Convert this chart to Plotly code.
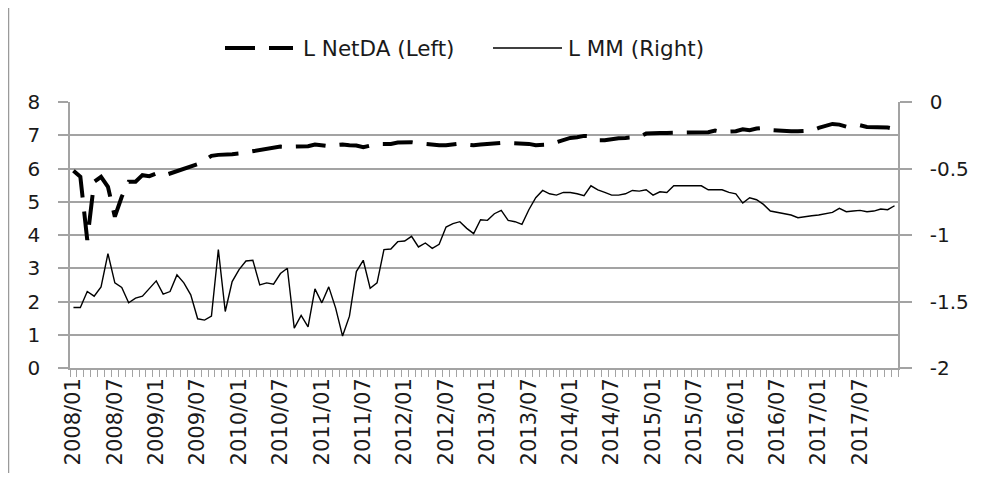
import plotly.graph_objects as go

# Categories: monthly, 2008/01 .. 2017/12
years = list(range(2008, 2018))
months = [f"{y}/{m:02d}" for y in years for m in range(1, 13)]
tick_labels = months[::6]

# L NetDA (left axis)
netda = [5.93, 5.75, 3.85, 5.60, 5.75, 5.45, 4.55, 5.15, 5.60, 5.60,
         5.80, 5.77, 5.85, 5.78, 5.85, 5.92, 6.00, 6.08, 6.13, 6.25,
         6.38, 6.41, 6.41, 6.43, 6.45, 6.49, 6.53, 6.56, 6.59, 6.63,
         6.66, 6.65, 6.65, 6.66, 6.67, 6.72, 6.70, 6.67, 6.70, 6.72,
         6.70, 6.69, 6.64, 6.70, 6.74, 6.74, 6.74, 6.78, 6.79, 6.79,
         6.76, 6.73, 6.70, 6.70, 6.70, 6.72, 6.75, 6.72, 6.70, 6.72,
         6.74, 6.77, 6.77, 6.77, 6.77, 6.77, 6.74, 6.70, 6.70, 6.72,
         6.79, 6.86, 6.92, 6.94, 6.98, 6.97, 6.85, 6.85, 6.89, 6.91,
         6.92, 6.92, 6.95, 7.05, 7.07, 7.07, 7.07, 7.07, 7.07, 7.07,
         7.08, 7.06, 7.09, 7.14, 7.10, 7.11, 7.12, 7.18, 7.15, 7.20,
         7.22, 7.16, 7.14, 7.12, 7.12, 7.12, 7.13, 7.14, 7.22, 7.28,
         7.34, 7.32, 7.26, 7.27, 7.30, 7.25, 7.25, 7.25, 7.23, 7.19]

# L MM (right axis)
mm = [-1.545, -1.545, -1.425, -1.46, -1.39, -1.14, -1.36, -1.395, -1.51, -1.475,
      -1.46, -1.40, -1.345, -1.445, -1.425, -1.30, -1.36, -1.45, -1.63, -1.64,
      -1.61, -1.11, -1.575, -1.35, -1.26, -1.195, -1.19, -1.375, -1.36, -1.37,
      -1.29, -1.25, -1.70, -1.605, -1.69, -1.405, -1.51, -1.39, -1.55, -1.76,
      -1.61, -1.275, -1.19, -1.40, -1.36, -1.11, -1.105, -1.05, -1.045, -1.01,
      -1.09, -1.06, -1.10, -1.07, -0.94, -0.915, -0.90, -0.95, -0.99, -0.885,
      -0.89, -0.84, -0.815, -0.89, -0.90, -0.92, -0.81, -0.72, -0.665, -0.69,
      -0.70, -0.68, -0.68, -0.69, -0.705, -0.63, -0.66, -0.68, -0.70, -0.70,
      -0.69, -0.665, -0.67, -0.66, -0.70, -0.675, -0.68, -0.63, -0.63, -0.63,
      -0.63, -0.63, -0.66, -0.66, -0.66, -0.68, -0.69, -0.76, -0.72, -0.735,
      -0.77, -0.82, -0.83, -0.84, -0.85, -0.87, -0.86, -0.855, -0.85, -0.84,
      -0.83, -0.80, -0.825, -0.82, -0.815, -0.825, -0.82, -0.805, -0.81, -0.78]

series_names = ["L NetDA (Left)", "L MM (Right)"]
left_ticks = [0, 1, 2, 3, 4, 5, 6, 7, 8]
right_ticks = [-2, -1.5, -1, -0.5, 0]
right_ticklabels = ["-2", "-1.5", "-1", "-0.5", "0"]

FONT = "DejaVu Sans"
GRID = "#a3a3a3"
TXT = "#1a1a1a"

# figure geometry (page has an 8px body margin)
W, H = 966, 465
ML, MR, MT, MB = 62, 76, 94, 105
PW, PH = W - ML - MR, H - MT - MB


def px(x):
    return (x - ML) / PW


def py(y):
    return (H - MB - y) / PH


dash_style = "30px,14px"

fig = go.Figure()
fig.add_trace(go.Scatter(
    x=months, y=netda, name=series_names[0], mode="lines",
    line=dict(color="black", width=4, dash=dash_style),
))
fig.add_trace(go.Scatter(
    x=months, y=mm, name=series_names[1], mode="lines", yaxis="y2",
    line=dict(color="black", width=1.4),
))

legend_y = 40
shapes = [
    # outer chart frame (left edge)
    dict(type="line", xref="paper", yref="paper",
         x0=px(0.5), x1=px(0.5), y0=py(0), y1=py(H),
         line=dict(color="#9a9a9a", width=1.5)),
    # legend samples
    dict(type="line", xref="paper", yref="paper",
         x0=px(217), x1=px(285), y0=py(legend_y), y1=py(legend_y),
         line=dict(color="black", width=4, dash=dash_style)),
    dict(type="line", xref="paper", yref="paper",
         x0=px(485), x1=px(554), y0=py(legend_y), y1=py(legend_y),
         line=dict(color="black", width=1.4)),
]
annotations = [
    dict(text=series_names[0], xref="paper", yref="paper", x=px(293), y=py(legend_y),
         xanchor="left", yanchor="middle", showarrow=False,
         font=dict(family=FONT, size=21.5, color=TXT)),
    dict(text=series_names[1], xref="paper", yref="paper", x=px(558), y=py(legend_y),
         xanchor="left", yanchor="middle", showarrow=False,
         font=dict(family=FONT, size=21.5, color=TXT)),
]

fig.update_layout(
    width=W, height=H,
    margin=dict(l=ML, r=MR, t=MT, b=MB),
    paper_bgcolor="white", plot_bgcolor="white",
    font=dict(family=FONT, size=20, color=TXT),
    showlegend=False,
    xaxis=dict(
        type="category", range=[-0.5, len(months) - 0.5],
        tickmode="array", tickvals=months,
        ticktext=[m if m in tick_labels else "" for m in months],
        tickson="boundaries", ticks="outside", ticklen=7, tickcolor=GRID, tickwidth=1,
        tickangle=-90, showgrid=False, showline=True, linecolor=GRID, linewidth=1.5,
        zeroline=False, automargin=False, tickfont=dict(size=21),
    ),
    yaxis=dict(
        range=[0, 8], tickmode="array", tickvals=left_ticks,
        showgrid=True, gridcolor=GRID, gridwidth=1.5,
        showline=True, linecolor=GRID, linewidth=1.5,
        ticks="outside", ticklen=10, tickcolor=GRID, tickwidth=1.5,
        ticklabelstandoff=14, zeroline=False, automargin=False,
        tickfont=dict(size=20),
    ),
    yaxis2=dict(
        range=[-2, 0], overlaying="y", side="right", anchor="x",
        tickmode="array", tickvals=right_ticks, ticktext=right_ticklabels,
        showgrid=False, showline=True, linecolor=GRID, linewidth=1.5,
        ticks="outside", ticklen=12, tickcolor=GRID, tickwidth=1.5,
        ticklabelstandoff=14, zeroline=False, automargin=False,
        tickfont=dict(size=20),
    ),
    shapes=shapes,
    annotations=annotations,
)

fig.write_html("out.html")
